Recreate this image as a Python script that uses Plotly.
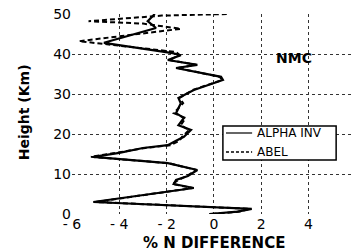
import plotly.graph_objects as go

# ALPHA INV (solid)
alpha_height = [0.0, 0.6, 1.3, 3.0, 6.5, 7.5, 8.5, 9.5, 11.0, 12.7, 14.3, 15.3, 16.5, 17.2, 18.3, 19.3,
                21.0, 22.2, 24.0, 25.2, 27.7, 29.0, 31.0, 33.5, 34.3, 36.5, 37.3, 38.5, 39.7, 40.2,
                42.8, 46.5, 48.2, 50.0]
alpha_diff = [-0.2, 1.0, 1.6, -5.1, -0.85, -1.7, -1.6, -1.1, -0.7, -1.95, -5.1, -4.0, -3.0, -1.95, -1.6, -1.27,
              -0.97, -1.5, -1.27, -1.6, -1.4, -1.5, -0.85, 0.38, 0.3, -1.6, -0.7, -1.95, -1.4, -1.75,
              -4.65, -2.45, -2.8, -2.5]

# ABEL (dashed)
abel_height = [0.0, 0.6, 1.3, 3.0, 6.5, 7.5, 8.5, 9.5, 11.0, 12.7, 14.3, 15.3, 16.5, 17.2, 18.3, 19.3,
               21.0, 22.2, 24.0, 25.2, 27.7, 29.0, 31.0, 33.5, 34.3, 36.5, 37.3, 38.5, 39.7, 40.5,
               43.2, 46.3, 47.6, 48.2, 49.6, 50.0]
abel_diff = [-0.1, 1.1, 1.5, -5.0, -0.9, -1.75, -1.5, -1.15, -0.75, -1.9, -5.2, -4.1, -2.9, -1.85, -1.45, -1.35,
             -1.05, -1.4, -1.2, -1.7, -1.3, -1.45, -0.9, 0.35, 0.25, -1.55, -0.75, -1.9, -1.45, -1.6,
             -5.7, -1.4, -3.0, -5.3, -2.2, 0.6]

x_ticks = [-6, -4, -2, 0, 2, 4, 6]
x_tick_labels = ["- 6", "- 4", "- 2", "0", "2", "4", "6"]
y_ticks = [0, 10, 20, 30, 40, 50]
y_tick_labels = ["0", "10", "20", "30", "40", "50"]

series_names = ["ALPHA INV", "ABEL"]

font_family = "DejaVu Sans, Arial, sans-serif"

fig = go.Figure()
fig.add_trace(go.Scatter(x=alpha_diff, y=alpha_height, mode="lines", name=series_names[0],
                         line=dict(color="black", width=2.2), showlegend=False))
fig.add_trace(go.Scatter(x=abel_diff, y=abel_height, mode="lines", name=series_names[1],
                         line=dict(color="black", width=2, dash="5px,3px"), showlegend=False))

# manual legend (paper coordinates)
lx0, lx1, ly0, ly1 = 0.537, 0.940, 0.27, 0.44
shapes = [
    dict(type="rect", xref="paper", yref="paper", x0=lx0, x1=lx1, y0=ly0, y1=ly1,
         line=dict(color="black", width=1.5), fillcolor="white", layer="above"),
    dict(type="line", xref="paper", yref="paper", x0=0.548, x1=0.641, y0=0.405, y1=0.405,
         line=dict(color="black", width=1.2), layer="above"),
    dict(type="line", xref="paper", yref="paper", x0=0.548, x1=0.641, y0=0.31, y1=0.31,
         line=dict(color="black", width=1.5, dash="3px,2px"), layer="above"),
]

fig.update_layout(
    width=353, height=252,
    margin=dict(l=72, r=0, t=14, b=38),
    paper_bgcolor="white", plot_bgcolor="white",
    font=dict(family=font_family, color="black"),
    showlegend=False,
    shapes=shapes,
    xaxis=dict(range=[-6, 5.88], tickvals=x_ticks, ticktext=x_tick_labels,
               showgrid=True, gridcolor="#333", griddash="dot", gridwidth=1,
               zeroline=False, showline=False, ticks="", automargin=False,
               tickfont=dict(size=14, family=font_family)),
    yaxis=dict(range=[0, 50], tickvals=y_ticks, ticktext=y_tick_labels,
               showgrid=True, gridcolor="#333", griddash="dot", gridwidth=1,
               zeroline=False, showline=False, ticks="", automargin=False,
               tickfont=dict(size=14, family=font_family)),
    annotations=[
        dict(x=3.4, y=39.1, xref="x", yref="y", text="<b>NMC</b>", showarrow=False,
             font=dict(size=14, family=font_family)),
        dict(x=0.0, y=-0.145, xref="x", yref="paper", text="<b>% N DIFFERENCE</b>", showarrow=False,
             yanchor="middle", font=dict(size=15, family=font_family)),
        dict(x=-0.17, y=0.51, xref="paper", yref="paper", text="<b>Height (Km)</b>", showarrow=False,
             textangle=-90, xanchor="center", font=dict(size=14, family=font_family)),
        dict(x=0.65, y=0.405, xref="paper", yref="paper", text=series_names[0], showarrow=False,
             xanchor="left", yanchor="middle", font=dict(size=12, family=font_family)),
        dict(x=0.65, y=0.31, xref="paper", yref="paper", text=series_names[1], showarrow=False,
             xanchor="left", yanchor="middle", font=dict(size=12, family=font_family)),
    ],
)

fig.write_html("out.html", config={"displayModeBar": False},
               post_script="document.body.style.margin='0';document.body.style.overflow='hidden';")
